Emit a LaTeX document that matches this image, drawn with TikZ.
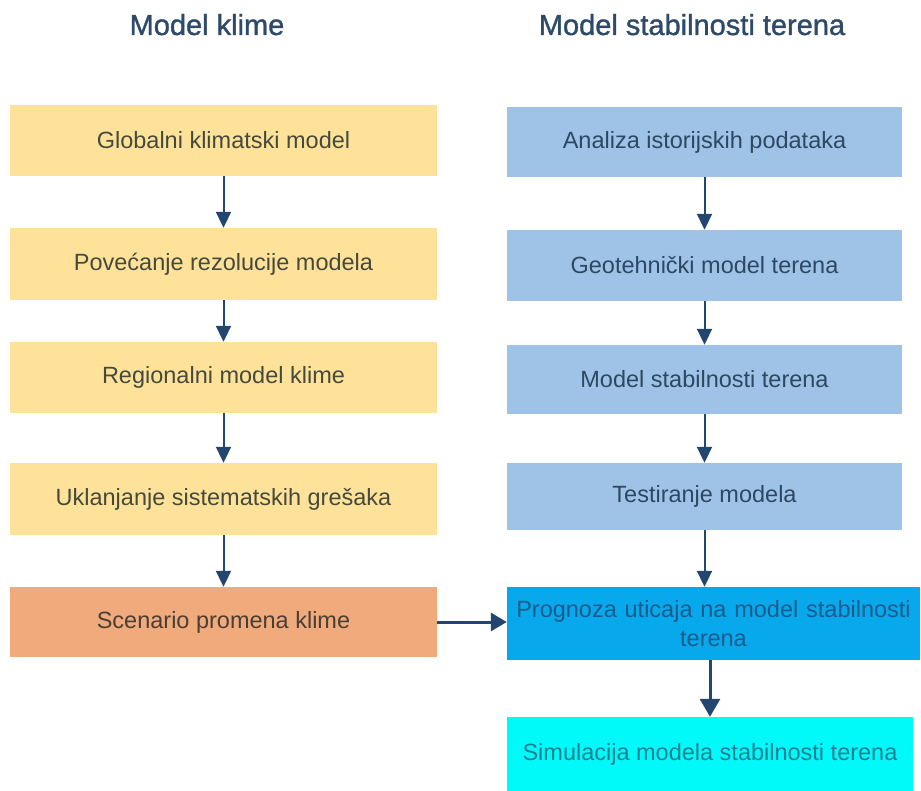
\documentclass[tikz,border=0pt]{standalone}
\usepackage{fontspec}
\setmainfont{Liberation Sans}
\newfontfamily\ttlfont[FakeBold=1.2]{Liberation Sans}
\usetikzlibrary{arrows.meta,calc}
\definecolor{ylw}{HTML}{FEE29A}
\definecolor{org}{HTML}{F0AA7C}
\definecolor{lblue}{HTML}{9FC3E7}
\definecolor{mblue}{HTML}{07A8EC}
\definecolor{cyanb}{HTML}{00FAFA}
\definecolor{arr}{HTML}{22466F}
\definecolor{ttl}{HTML}{2E4A68}
\definecolor{ytxt}{HTML}{464A3C}
\definecolor{otxt}{HTML}{4A3F35}
\definecolor{btxt}{HTML}{2C4862}
\definecolor{ptxt}{HTML}{1A5C8C}
\definecolor{stxt}{HTML}{1B7F92}
\tikzset{
  x=1pt,y=-1pt,
  box/.style={rectangle,inner sep=0pt,align=center,font=\fontsize{23.5}{29}\selectfont},
  lbox/.style={box,fill=ylw,text=ytxt,minimum width=427pt,minimum height=71pt},
  rbox/.style={box,fill=lblue,text=btxt,minimum width=395pt,minimum height=70pt},
  title/.style={anchor=base,text=ttl,font=\ttlfont\fontsize{29}{34}\selectfont},
  flow/.style={draw=arr,line width=2pt,-{Triangle[width=15pt,length=16pt]}},
  sideflow/.style={draw=arr,line width=3pt,-{Triangle[width=18pt,length=16pt]}},
  bigflow/.style={draw=arr,line width=3pt,-{Triangle[width=20pt,length=18pt]}},
}
\begin{document}
\begin{tikzpicture}
\useasboundingbox (0,0) rectangle (921,791);
\node[title] (t1) at (207,35) {Model klime};
\node[title] (t2) at (692,35) {Model stabilnosti terena};

\node[lbox] (L1) at (223.5,140.5) {Globalni klimatski model};
\node[lbox,minimum height=72pt] (L2) at (223.5,264) {Povećanje rezolucije modela};
\node[lbox] (L3) at (223.5,377.5) {Regionalni model klime};
\node[lbox,minimum height=72pt] (L4) at (223.5,499) {Uklanjanje sistematskih grešaka};
\node[lbox,fill=org,text=otxt,minimum height=70pt] (L5) at (223.5,622) {Scenario promena klime};

\node[rbox] (R1) at (704.5,142) {Analiza istorijskih podataka};
\node[rbox,minimum height=71pt] (R2) at (704.5,265.5) {Geotehnički model terena};
\node[rbox,minimum height=69pt] (R3) at (704.5,379.5) {Model stabilnosti terena};
\node[rbox,minimum height=67pt] (R4) at (704.5,496.5) {Testiranje modela};
\node[box,fill=mblue,text=ptxt,minimum width=413pt,minimum height=73pt,text width=405pt] (R5) at (713.5,623.5) {Prognoza uticaja na model stabilnosti\\terena};
\node[box,fill=cyanb,text=stxt,minimum width=406pt,minimum height=74pt] (R6) at (710,754) {Simulacija modela stabilnosti terena};

\draw[flow] (L1.south) -- (L2.north);
\draw[flow] (L2.south) -- (L3.north);
\draw[flow] (L3.south) -- (L4.north);
\draw[flow] (L4.south) -- (L5.north);
\draw[flow] (R1.south) -- (R2.north);
\draw[flow] (R2.south) -- (R3.north);
\draw[flow] (R3.south) -- (R4.north);
\draw[flow] (R4.south) -- (R4.south |- R5.north);
\draw[sideflow] (L5.east) -- (L5.east -| R5.west);
\draw[bigflow] (R5.south -| R6.north) -- (R6.north);
\end{tikzpicture}
\end{document}
